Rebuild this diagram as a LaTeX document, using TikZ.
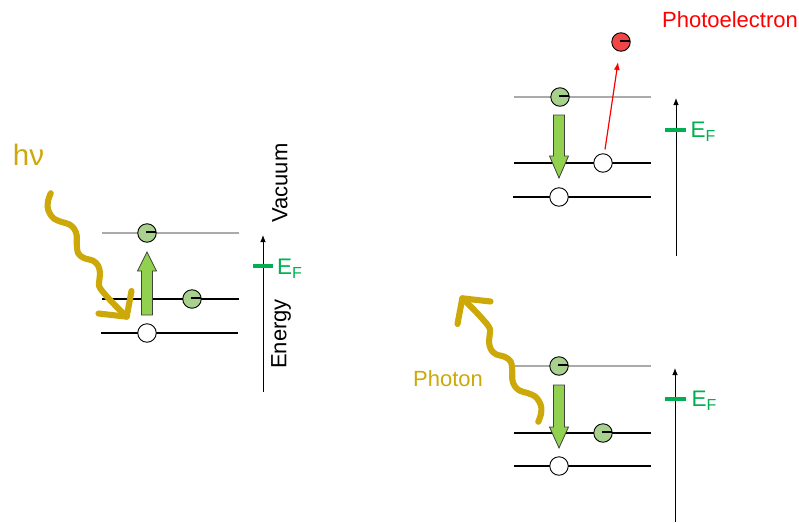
\documentclass[tikz,border=0pt]{standalone}
\usepackage{fontspec}
\setmainfont{Liberation Sans}
\usetikzlibrary{arrows.meta}

\definecolor{photonyellow}{RGB}{204,168,8}
\definecolor{elgreen}{RGB}{169,209,142}
\definecolor{arrowgreen}{RGB}{146,208,80}
\definecolor{fermigreen}{RGB}{0,176,80}
\definecolor{levelgray}{RGB}{170,170,170}
\definecolor{elred}{RGB}{240,70,70}

\tikzset{
  level/.style={line width=1.6pt, draw=black},
  vaclevel/.style={line width=1.6pt, draw=levelgray},
  particle/.style={circle, draw=black, line width=0.9pt, minimum size=18.5pt, inner sep=0pt},
  electron/.style={particle, fill=elgreen,
    path picture={\draw[line width=2.4pt]
      ([shift={(-1pt,1.2pt)}]path picture bounding box.center) -- ++(11pt,0pt);}},
  photoel/.style={electron, fill=elred},
  hole/.style={particle, fill=white},
  transition/.style={fill=arrowgreen, draw=black!75, line width=0.8pt, line join=miter},
  energyaxis/.style={line width=0.8pt, -{Latex[length=7pt,width=5.5pt]}},
  fermitick/.style={draw=fermigreen, line width=3.2pt},
  fermilabel/.style={text=fermigreen, inner sep=0pt, anchor=base west, font=\fontsize{22.5pt}{22.5pt}\selectfont},
  wavestroke/.style={draw=photonyellow, line width=6.1pt, line cap=round, line join=round},
  label/.style={inner sep=0pt, font=\fontsize{22pt}{22pt}\selectfont},
}
\newcommand{\fermitext}{E\raisebox{-4pt}{\fontsize{16pt}{16pt}\selectfont F}}
% wavy photon with an open arrow head, drawn from its tail at the origin
\newcommand{\photonwave}{%
  \draw[wavestroke] plot[smooth, tension=0.6] coordinates {
    (0,0) (-2.5,7) (-3,14) (-1,20) (3.5,25.5) (11,28.7) (18.5,31) (23.5,35.5)
    (26,42) (26,50) (27.5,60) (33.5,64.8) (42.5,67.5) (47.5,72.5) (49.3,80)
    (48.5,88) (49.5,95) (62,109.5) (76,123.4)};
  \draw[wavestroke] (47.8,120.2) -- (76,123.4) -- (80.8,97.7);}

\begin{document}
\begin{tikzpicture}[x=1pt, y=-1pt]
\useasboundingbox (0,0) rectangle (799,522);

% ---------------- absorption (left) ----------------
\draw[vaclevel] (102,233) -- (239,233);
\draw[level] (102,299) -- (239,299);
\draw[level] (101,333) -- (238,333);

% incoming photon
\begin{scope}[shift={(50.7,193.3)}]
  \photonwave
\end{scope}
\node[label, text=photonyellow, font=\fontsize{29.5pt}{29.5pt}\selectfont] (hnu) at (28.5,155) {hν};

% excitation
\draw[transition] (141.5,315) -- (141.5,271) -- (137.5,271) -- (147,252)
  -- (156.5,271) -- (152.5,271) -- (152.5,315) -- cycle;

\node[electron] (L-top) at (147,233) {};
\node[electron] (L-mid) at (192,299) {};
\node[hole] (L-hole) at (147,333) {};

% energy axis
\coordinate (L-ax0) at (263,392);
\coordinate (L-ax1) at (263,235);
\draw[energyaxis] (L-ax0) -- (L-ax1);
\coordinate (L-f0) at (253,266);
\coordinate (L-f1) at (273,266);
\draw[fermitick] (L-f0) -- (L-f1);
\node[fermilabel] (L-ef) at (277,274) {\fermitext};
\node[label, rotate=90] (vac) at (280,183) {Vacuum};
\node[label, rotate=90] (energy) at (281,334) {Energy};

% ---------------- photoelectron emission (top right) ----------------
\draw[vaclevel] (514,97) -- (651,97);
\draw[level] (514,163) -- (651,163);
\draw[level] (513,197) -- (651,197);

\draw[transition] (553.5,115) -- (553.5,156) -- (549.5,156) -- (559,178)
  -- (568.5,156) -- (564.5,156) -- (564.5,115) -- cycle;

\node[electron] (A-top) at (560,97) {};
\node[hole] (A-hole1) at (603,163) {};
\node[hole] (A-hole2) at (559,197) {};
\node[photoel] (A-free) at (621,42) {};
\draw[red, line width=1.2pt, -{Latex[length=8pt,width=6pt]}, shorten <=4pt, shorten >=10.5pt]
  (A-hole1) -- (A-free);
\node[label, text=red] (pe) at (730,20) {Photoelectron};

\coordinate (A-ax0) at (676,256);
\coordinate (A-ax1) at (676,98);
\draw[energyaxis] (A-ax0) -- (A-ax1);
\coordinate (A-f0) at (665,130);
\coordinate (A-f1) at (686,130);
\draw[fermitick] (A-f0) -- (A-f1);
\node[fermilabel] (A-ef) at (690.5,137.5) {\fermitext};

% ---------------- fluorescence (bottom right) ----------------
\draw[vaclevel] (514,366) -- (651,366);
\draw[level] (514,433) -- (651,433);
\draw[level] (514,466) -- (651,466);

% outgoing photon
\begin{scope}[shift={(538.3,421.7)}, rotate=180]
  \photonwave
\end{scope}
\node[label, text=photonyellow] (photon) at (448,379) {Photon};

\draw[transition] (553.5,385) -- (553.5,427) -- (549.5,427) -- (559,448)
  -- (568.5,427) -- (564.5,427) -- (564.5,385) -- cycle;

\node[electron] (F-top) at (559,366) {};
\node[electron] (F-mid) at (603,433) {};
\node[hole] (F-hole) at (559,466) {};

\coordinate (F-ax0) at (675,522);
\coordinate (F-ax1) at (675,368);
\draw[energyaxis] (F-ax0) -- (F-ax1);
\coordinate (F-f0) at (665,399);
\coordinate (F-f1) at (686,399);
\draw[fermitick] (F-f0) -- (F-f1);
\node[fermilabel] (F-ef) at (691.5,406.5) {\fermitext};
\end{tikzpicture}
\end{document}
